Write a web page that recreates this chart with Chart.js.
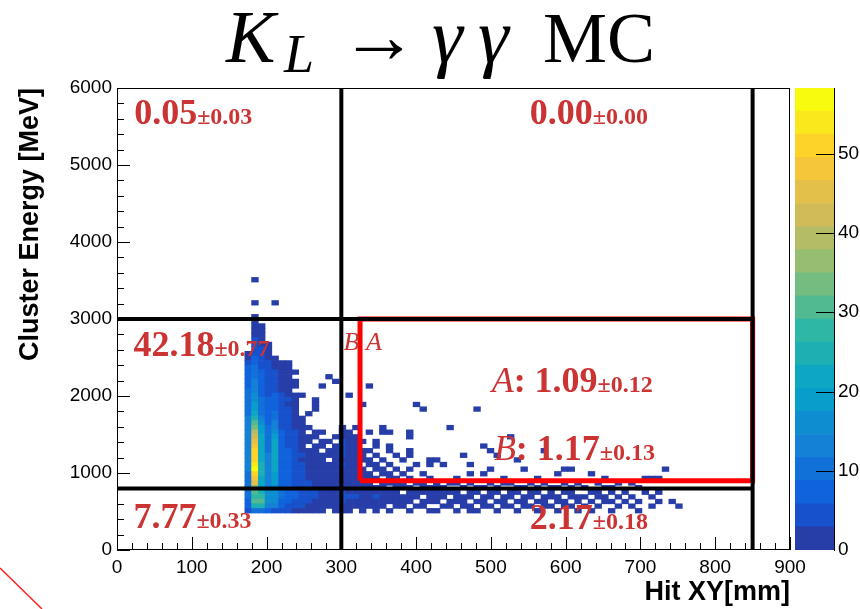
<!DOCTYPE html>
<html>
<head>
<meta charset="utf-8">
<script src="https://cdn.jsdelivr.net/npm/chart.js@4/dist/chart.umd.min.js"></script>
<style>
  html, body { margin: 0; padding: 0; background: #fff; }
  #wrap { position: relative; width: 860px; height: 609px; }
  #main { position: absolute; left: 0; top: 0; }
  #zbar { position: absolute; left: 795px; top: 0; }
</style>
</head>
<body>
<div id="wrap">
  <canvas id="main" width="860" height="609"></canvas>
  <canvas id="zbar" width="65" height="609"></canvas>
</div>
<script>
// binning of the 2D histogram (100 x 100 bins over 900 mm x 6000 MeV)
const X_BIN = 9;
const Y_BIN = 60;
const Z_MAX = 58.3;
const N_CONTOURS = 20;

// dense core, one row per y bin (top row = bin 49), columns = x bins 19..46
const CORE_X0 = 19;
const CORE_Y_TOP = 49;
const coreCounts = [
  [0,1,0,0,0,0, 0,0,0,0,0,0,0,0, 0,0,0,0,0,0,0,0,0,0,0,0,0,0],
  [0,1,1,0,0,0, 0,0,0,0,0,0,0,0, 0,0,0,0,0,0,0,0,0,0,0,0,0,0],
  [0,2,1,0,0,0, 0,0,0,0,0,0,0,0, 0,0,0,0,0,0,0,0,0,0,0,0,0,0],
  [0,2,1,0,0,0, 0,0,0,0,0,0,0,0, 0,0,0,0,0,0,0,0,0,0,0,0,0,0],
  [0,3,2,0,0,0, 0,0,0,0,0,0,0,0, 0,0,0,0,0,0,0,0,0,0,0,0,0,0],
  [0,3,2,1,0,0, 0,0,0,0,0,0,0,0, 0,0,0,0,0,0,0,0,0,0,0,0,0,0],
  [0,4,3,1,0,0, 0,0,0,0,0,0,0,0, 0,0,0,0,0,0,0,0,0,0,0,0,0,0],
  [1,5,3,1,0,0, 0,0,0,0,0,0,0,0, 0,0,0,0,0,0,0,0,0,0,0,0,0,0],
  [2,6,4,2,1,0, 0,0,0,0,0,0,0,0, 0,0,0,0,0,0,0,0,0,0,0,0,0,0],
  [5,8,5,3,2,1, 1,0,0,0,0,0,0,0, 0,0,0,0,0,0,0,0,0,0,0,0,0,0],
  [6,9,5,3,2,1, 1,0,0,0,0,0,0,0, 0,0,0,0,0,0,0,0,0,0,0,0,0,0],
  [7,10,6,4,3,1, 1,1,0,0,0,0,0,0, 0,0,0,0,0,0,0,0,0,0,0,0,0,0],
  [7,11,6,4,3,2, 2,0,0,0,0,0,1,0, 0,0,0,0,0,0,0,0,0,0,0,0,0,0],
  [8,12,7,4,4,2, 1,1,0,0,0,0,0,1, 0,0,0,0,0,0,0,0,0,0,0,0,0,0],
  [8,13,7,5,4,2, 2,1,0,0,0,1,0,0, 0,0,0,0,1,0,0,0,0,0,0,0,0,0],
  [9,14,8,5,5,2, 2,0,0,0,0,0,0,0, 0,0,0,0,0,0,0,0,0,0,0,0,0,0],
  [9,15,8,5,6,3, 2,1,1,0,0,0,0,0, 0,1,0,0,0,0,0,0,0,0,0,0,0,0],
  [10,16,9,6,6,3, 3,1,0,0,1,0,0,0, 0,0,0,0,0,0,0,0,0,0,0,0,0,0],
  [10,18,9,6,7,3, 2,1,0,0,1,0,0,0, 0,0,0,1,0,0,0,0,0,0,0,1,0,0],
  [11,20,10,7,8,4, 3,2,0,0,1,0,0,0, 0,0,0,0,0,0,0,0,0,0,0,0,1,0],
  [11,23,11,7,9,4, 3,1,0,1,0,0,0,0, 0,0,0,0,0,0,0,0,0,0,0,0,0,0],
  [12,26,13,8,10,4, 3,2,1,0,0,0,0,0, 0,0,0,0,0,0,0,0,0,0,0,0,0,0],
  [12,30,15,8,12,5, 4,2,1,0,0,0,0,0, 0,0,0,0,0,0,0,0,0,0,0,0,0,0],
  [13,34,18,9,14,5, 4,2,1,1,0,0,0,0, 1,0,1,0,0,0,1,0,0,0,0,0,0,0],
  [13,38,20,10,17,6, 4,3,1,0,1,1,0,0, 2,1,0,0,1,0,1,1,0,0,1,0,0,0],
  [14,42,21,10,19,6, 5,3,2,1,1,0,0,1, 2,1,1,0,0,0,0,0,0,0,1,0,0,0],
  [14,46,22,11,21,7, 5,3,2,1,0,1,1,0, 3,2,1,1,0,1,0,0,0,0,0,0,0,0],
  [14,48,22,11,22,7, 5,3,2,0,1,1,0,1, 3,2,1,0,0,1,0,1,0,0,0,0,0,0],
  [13,50,23,11,22,8, 6,3,2,2,1,0,1,1, 3,2,2,1,1,0,0,1,0,0,1,0,0,0],
  [13,51,23,12,23,8, 6,4,3,2,1,1,1,1, 3,2,1,1,0,1,0,0,1,0,1,0,0,0],
  [13,51,23,12,22,8, 6,4,2,1,2,1,0,1, 2,2,1,1,1,0,1,0,0,1,0,0,0,1],
  [12,53,24,12,22,8, 6,4,3,2,1,1,1,1, 3,2,1,0,1,1,0,1,0,0,0,1,0,1],
  [12,57,24,12,21,8, 6,4,3,2,2,1,1,2, 2,1,2,1,0,1,1,0,1,0,1,0,0,0],
  [11,52,24,12,20,8, 6,4,3,2,1,2,1,1, 2,2,1,1,1,0,1,1,0,1,0,0,1,0],
  [11,48,23,12,19,8, 7,4,3,2,2,1,2,1, 2,1,1,1,1,1,0,1,1,0,1,0,0,1],
  [10,44,22,14,18,8, 7,5,3,3,2,2,1,2, 2,2,1,1,1,0,1,1,1,1,0,1,1,0],
  [10,36,22,14,17,8, 7,5,4,3,2,2,1,2, 2,2,2,1,1,1,1,0,1,1,1,0,1,1],
  [9,30,24,15,17,9, 8,6,4,3,3,2,2,2, 3,2,2,2,1,2,1,1,1,0,1,1,1,1],
  [9,28,28,16,17,9, 8,6,4,3,3,2,2,2, 3,3,4,2,2,3,1,2,1,1,1,1,0,1],
  [8,30,32,15,16,8, 7,5,4,3,2,2,2,2, 3,2,2,2,1,2,1,1,1,1,1,0,1,1],
  [6,24,26,12,12,6, 5,4,3,2,2,1,1,1, 2,2,1,1,1,1,1,0,1,1,0,1,1,0],
  [3,10,10,6,5,3, 3,2,2,1,1,1,0,1, 1,1,0,1,0,1,0,1,0,0,1,0,0,1]
];

// single-entry bins outside the core: [x bin, y bin]
const strayBins = [
  [20,50],[20,53],[23,53],[20,58],
  [53,30],[49,26],[58,24],[54,22],[55,21],[56,20],[63,21],[51,20],[59,19],
  [47,19],[48,18],[52,18],[55,17],[54,16],[60,17],[65,16],[66,17],[67,17],
  [81,17],[78,15],[79,15],[80,15],[50,15],[52,16],[57,15],[62,15],[70,16],[72,15]
];

// low-energy tail right of the core: y bins and the x bins filled in each
const tailRowBins = [14, 13, 12, 11, 10, 9, 8];
const tailRowCols = [
  [47,49,50,52,55,57,58,61,63,66,68,71,74,76],
  [47,48,51,53,54,56,59,60,62,64,65,67,69,72,73,77],
  [47,48,49,50,52,53,55,56,58,59,61,62,64,66,67,70,71,73,75,78,80],
  [47,48,50,51,52,54,55,57,58,60,61,63,64,65,67,68,69,71,72,74,76,79],
  [47,49,50,51,53,54,56,57,59,60,62,63,65,66,68,70,72,73,75,77,80,82],
  [48,49,51,52,54,55,57,58,60,61,63,64,66,67,69,71,74,76,79,83],
  [47,50,52,53,56,59,62,65,68,70,73,77]
];

// cut lines and signal box (mm / MeV)
const cutX = [300, 850];
const cutY = [3000, 800];
const cutYEnd = 850;
const boxX = [325, 850];
const boxY = [900, 3000];

// region yields
const yieldText = ['0.05', '0.00', '42.18', '7.77', '2.17'];
const yieldErr = ['0.03', '0.00', '0.77', '0.33', '0.18'];
const effNames = ['A', 'B'];
const effText = ['1.09', '1.17'];
const effErr = ['0.12', '0.13'];

// where the labels sit (axis units, left edge / baseline)
const yieldPos = [[23, 5532], [552, 5532], [22, 2519], [22, 286], [552, 273]];
const effPos = [[501, 2052], [504, 1169]];
const boxTagPos = [303, 2597];

const SANS = "'Liberation Sans', Arial, sans-serif";
const SERIF = "'Liberation Serif', 'DejaVu Serif', serif";
const TEXT_RED = '#cc3333';

// ROOT kBird palette
const BIRD_STOPS = [0, 0.125, 0.25, 0.375, 0.5, 0.625, 0.75, 0.875, 1];
const BIRD_R = [0.2082, 0.0592, 0.0780, 0.0232, 0.1802, 0.5301, 0.8186, 0.9956, 0.9764];
const BIRD_G = [0.1664, 0.3599, 0.5041, 0.6419, 0.7178, 0.7492, 0.7328, 0.7862, 0.9832];
const BIRD_B = [0.5293, 0.8684, 0.8385, 0.7914, 0.6425, 0.4662, 0.3499, 0.1968, 0.0539];

function bird(t) {
  let k = 0;
  while (k < 7 && t > BIRD_STOPS[k + 1]) k++;
  const f = (t - BIRD_STOPS[k]) / (BIRD_STOPS[k + 1] - BIRD_STOPS[k]);
  const c = a => Math.round(255 * (a[k] + (a[k + 1] - a[k]) * f));
  return `rgb(${c(BIRD_R)},${c(BIRD_G)},${c(BIRD_B)})`;
}
function bandColor(k) {
  return bird(Math.floor((k + 0.99) * 255 / N_CONTOURS) / 254);
}
function zColor(n) {
  return bandColor(Math.min(N_CONTOURS - 1, Math.floor(n / (Z_MAX / N_CONTOURS))));
}

function cell(i, j, n) {
  return { x: (i + 0.5) * X_BIN, y: [j * Y_BIN, (j + 1) * Y_BIN], n };
}

const cells = [];
coreCounts.forEach((row, r) => {
  row.forEach((n, c) => { if (n > 0) cells.push(cell(CORE_X0 + c, CORE_Y_TOP - r, n)); });
});
strayBins.forEach(([i, j]) => cells.push(cell(i, j, 1)));
tailRowBins.forEach((j, r) => tailRowCols[r].forEach(i => cells.push(cell(i, j, 1))));

function segment(x0, y0, x1, y1) {
  return [{ x: x0, y: y0 }, { x: x1, y: y1 }];
}
const lineStyle = { type: 'line', borderColor: '#000', borderWidth: 4, pointRadius: 0, fill: false, order: 1 };

const inwardTicks = {
  id: 'inwardTicks',
  afterDatasetsDraw(chart) {
    const { ctx, chartArea: a, scales: { x, y } } = chart;
    ctx.save();
    ctx.strokeStyle = '#000';
    ctx.lineWidth = 1;
    ctx.beginPath();
    for (let v = 0; v <= 900; v += 20) {
      const px = Math.round(x.getPixelForValue(v)) + 0.5;
      ctx.moveTo(px, a.bottom);
      ctx.lineTo(px, a.bottom - (v % 100 === 0 ? 13 : 7));
    }
    for (let v = 0; v <= 6000; v += 200) {
      const py = Math.round(y.getPixelForValue(v)) + 0.5;
      ctx.moveTo(a.left, py);
      ctx.lineTo(a.left + (v % 1000 === 0 ? 13 : 7), py);
    }
    ctx.stroke();
    ctx.strokeRect(a.left + 0.5, a.top + 0.5, a.right - a.left - 1, a.bottom - a.top - 1);
    ctx.restore();
  }
};

function valueWithError(ctx, px, py, main, err, lead) {
  let cx = px;
  ctx.textAlign = 'left';
  ctx.textBaseline = 'alphabetic';
  if (lead) {
    ctx.font = `italic 36px ${SERIF}`;
    ctx.fillText(lead, cx, py);
    cx += ctx.measureText(lead).width;
    main = ': ' + main;
  }
  ctx.font = `bold 36px ${SERIF}`;
  ctx.fillText(main, cx, py);
  cx += ctx.measureText(main).width;
  ctx.font = `bold 24px ${SERIF}`;
  ctx.fillText('\u00b1' + err, cx, py);
}

const regionLabels = {
  id: 'regionLabels',
  afterDatasetsDraw(chart) {
    const { ctx, scales: { x, y } } = chart;
    ctx.save();
    ctx.fillStyle = TEXT_RED;
    yieldText.forEach((t, k) => {
      valueWithError(ctx, x.getPixelForValue(yieldPos[k][0]), y.getPixelForValue(yieldPos[k][1]), t, yieldErr[k]);
    });
    effText.forEach((t, k) => {
      valueWithError(ctx, x.getPixelForValue(effPos[k][0]), y.getPixelForValue(effPos[k][1]), t, effErr[k], effNames[k]);
    });
    ctx.font = `italic 26px ${SERIF}`;
    ctx.fillText(effNames[1] + ' ' + effNames[0], x.getPixelForValue(boxTagPos[0]), y.getPixelForValue(boxTagPos[1]));
    ctx.restore();
  }
};

// title pieces laid out like the TLatex original (left x, baseline offset)
const pageTitle = {
  id: 'pageTitle',
  afterDraw(chart) {
    const { ctx } = chart;
    const parts = [
      { t: 'K', f: `italic 74px ${SERIF}`, x: 226, dy: 0 },
      { t: 'L', f: `italic 54px ${SERIF}`, x: 284, dy: 10 },
      { t: '\u2192', f: `78px ${SERIF}`, x: 340, dy: 0 },
      { t: '\u03b3', f: `italic 78px ${SERIF}`, x: 432, dy: 0 },
      { t: '\u03b3', f: `italic 78px ${SERIF}`, x: 478, dy: 0 },
      { t: 'MC', f: `72px ${SERIF}`, x: 543, dy: 0 }
    ];
    ctx.save();
    ctx.fillStyle = '#000';
    ctx.textAlign = 'left';
    ctx.textBaseline = 'alphabetic';
    parts.forEach(p => { ctx.font = p.f; ctx.fillText(p.t, p.x, 62 + p.dy); });
    // stray red stroke in the lower-left corner of the canvas
    ctx.strokeStyle = '#ff2020';
    ctx.lineWidth = 1.5;
    ctx.beginPath();
    ctx.moveTo(0, 568);
    ctx.lineTo(42, 609);
    ctx.stroke();
    ctx.restore();
  }
};

new Chart(document.getElementById('main'), {
  type: 'bar',
  data: {
    datasets: [
      {
        type: 'bar',
        data: cells,
        backgroundColor: c => zColor(c.raw.n),
        borderWidth: 0,
        barPercentage: 1,
        categoryPercentage: 1,
        order: 3
      },
      {
        ...lineStyle,
        data: [
          { x: boxX[0], y: boxY[0] }, { x: boxX[1], y: boxY[0] }, { x: boxX[1], y: boxY[1] },
          { x: boxX[0], y: boxY[1] }, { x: boxX[0], y: boxY[0] }
        ],
        borderColor: '#ff0000',
        borderWidth: 5,
        borderJoinStyle: 'miter',
        order: 2
      },
      { ...lineStyle, data: segment(cutX[0], 0, cutX[0], 6000) },
      { ...lineStyle, data: segment(cutX[1], 0, cutX[1], 6000) },
      { ...lineStyle, data: segment(0, cutY[0], cutYEnd, cutY[0]) },
      { ...lineStyle, data: segment(0, cutY[1], cutYEnd, cutY[1]) }
    ]
  },
  options: {
    responsive: false,
    animation: false,
    events: [],
    layout: { padding: { top: 88, right: 70, bottom: 0, left: 0 } },
    plugins: { legend: { display: false }, tooltip: { enabled: false } },
    scales: {
      x: {
        type: 'linear',
        min: 0,
        max: 900,
        offset: false,
        grid: { display: false, drawTicks: false },
        border: { display: false },
        ticks: {
          stepSize: 100, padding: 6, autoSkip: false, maxRotation: 0, color: '#000',
          font: { family: SANS, size: 19 }, callback: v => String(v)
        },
        title: {
          display: true, text: 'Hit XY[mm]', align: 'end', color: '#000',
          font: { family: SANS, size: 27, weight: 'bold' }, padding: { top: 0, bottom: 0 }
        },
        afterFit(s) { s.height = 59; }
      },
      y: {
        type: 'linear',
        min: 0,
        max: 6000,
        grid: { display: false, drawTicks: false },
        border: { display: false },
        ticks: {
          stepSize: 1000, padding: 5, autoSkip: false, color: '#000',
          font: { family: SANS, size: 19 }, callback: v => String(v)
        },
        title: {
          display: true, text: 'Cluster Energy [MeV]', align: 'end', color: '#000',
          font: { family: SANS, size: 27, weight: 'bold' }, padding: { top: 14, bottom: 0 }
        },
        afterFit(s) { s.width = 117; }
      }
    }
  },
  plugins: [inwardTicks, regionLabels, pageTitle]
});

// colour scale
const zTicks = {
  id: 'zTicks',
  afterDatasetsDraw(chart) {
    const { ctx, chartArea: a, scales: { y } } = chart;
    ctx.save();
    ctx.strokeStyle = '#000';
    ctx.lineWidth = 1;
    ctx.beginPath();
    for (let v = 10; v < Z_MAX; v += 10) {
      const py = Math.round(y.getPixelForValue(v)) + 0.5;
      ctx.moveTo(a.right, py);
      ctx.lineTo(a.right - 18, py);
    }
    ctx.stroke();
    ctx.restore();
  }
};

const bandStep = Z_MAX / N_CONTOURS;
new Chart(document.getElementById('zbar'), {
  type: 'bar',
  data: {
    labels: ['z'],
    datasets: Array.from({ length: N_CONTOURS }, (_, k) => ({
      data: [[k * bandStep, (k + 1) * bandStep]],
      backgroundColor: bandColor(k),
      borderWidth: 0,
      grouped: false,
      barPercentage: 1,
      categoryPercentage: 1
    }))
  },
  options: {
    responsive: false,
    animation: false,
    events: [],
    layout: { padding: { top: 88, right: 0, bottom: 59, left: 0 } },
    plugins: { legend: { display: false }, tooltip: { enabled: false } },
    scales: {
      x: { display: false },
      y: {
        position: 'right',
        min: 0,
        max: Z_MAX,
        grid: { display: false, drawTicks: false },
        border: { display: true, color: '#000', width: 1 },
        ticks: {
          stepSize: 10, padding: 4, color: '#000', font: { family: SANS, size: 19 },
          callback: v => (v % 10 === 0 ? String(v) : '')
        },
        afterFit(s) { s.width = 26; }
      }
    }
  },
  plugins: [zTicks]
});
</script>
</body>
</html>
